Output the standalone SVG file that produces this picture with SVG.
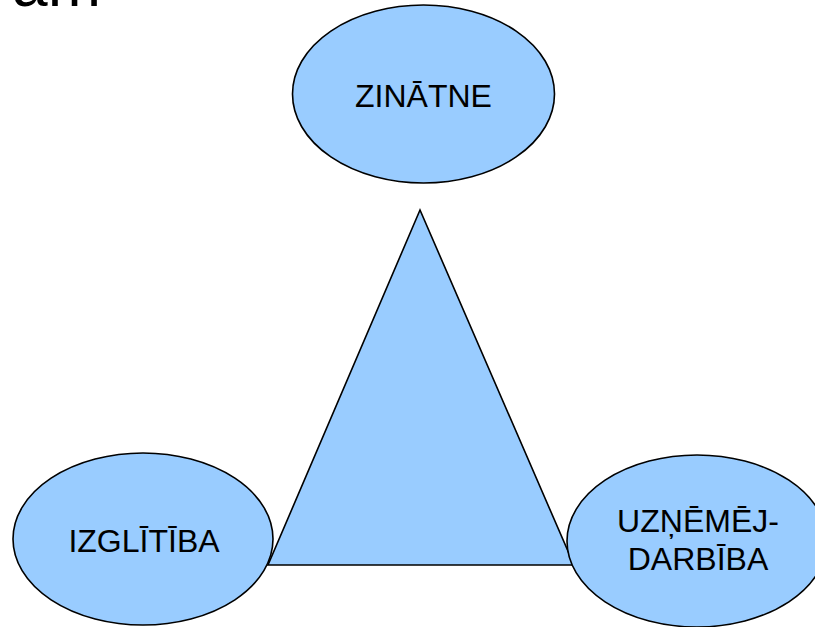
<svg xmlns="http://www.w3.org/2000/svg" width="815" height="627" viewBox="0 0 815 627">
<style>
.shape{fill:#99CCFF;stroke:#000;stroke-width:1.6}
.lbl{font-family:"Liberation Sans",Arial,sans-serif;font-size:32px;fill:#000;text-anchor:middle}
</style>
<rect width="815" height="627" fill="#fff"/>
<text x="101" y="6" font-family="Liberation Sans, Arial, sans-serif" font-size="64" text-anchor="end" fill="#000">am</text>
<g id="connectors">
<polygon class="shape" points="420,210 268,565 574,565"/>
</g>
<g id="zinatne">
<ellipse class="shape" cx="423.5" cy="94" rx="131" ry="89"/>
<text class="lbl" x="423.5" y="107">ZINĀTNE</text>
</g>
<g id="izglitiba">
<ellipse class="shape" cx="143" cy="539" rx="130" ry="86"/>
<text class="lbl" x="144" y="552">IZGLĪTĪBA</text>
</g>
<g id="uznemejdarbiba">
<ellipse class="shape" cx="697" cy="541" rx="130" ry="86"/>
<text class="lbl" x="698" y="532">UZŅĒMĒJ-</text>
<text class="lbl" x="698" y="570">DARBĪBA</text>
</g>
</svg>
